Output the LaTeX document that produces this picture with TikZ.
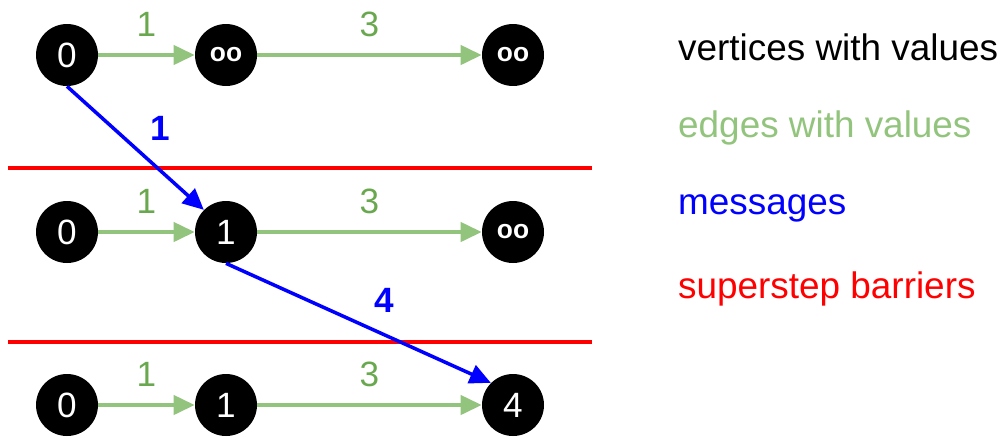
\documentclass[tikz,border=0pt]{standalone}
\usepackage{fontspec}
\setmainfont{Liberation Sans}
\usepackage{xcolor}
\definecolor{edgegreen}{RGB}{147, 196, 125}
\definecolor{labelgreen}{RGB}{106, 168, 79}
\definecolor{msgblue}{RGB}{0, 0, 255}
\definecolor{barred}{RGB}{255, 0, 0}
\usetikzlibrary{arrows.meta}
\tikzset{
  vertex/.style = {shape=circle, fill=black, text=white, minimum size=1.24cm, inner sep=0pt, font=\fontsize{20}{24}\selectfont},
  infinite/.style = {font=\bfseries\fontsize{15}{18}\selectfont},
  edge/.style = {draw=edgegreen, line width=2pt, -{Triangle[length=12pt, width=11pt]}},
  message/.style = {draw=msgblue, line width=2pt, -{Triangle[length=12pt, width=11pt]}},
  barrier/.style = {draw=barred, line width=2pt},
  elabel/.style = {text=labelgreen, font=\fontsize{20}{24}\selectfont},
  mlabel/.style = {text=msgblue, font=\bfseries\fontsize{20}{24}\selectfont},
  legend/.style = {anchor=west, font=\fontsize{21}{25}\selectfont}
}
\begin{document}
\begin{tikzpicture}[x=0.02cm, y=-0.02cm]
  \useasboundingbox (0,0) rectangle (1000,447);
  % superstep 1
  \node[vertex] (a0) at (67,55) {0};
  \node[vertex, infinite] (a1) at (226,55) {oo};
  \node[vertex, infinite] (a2) at (513,55) {oo};
  % superstep 2
  \node[vertex] (b0) at (67,232) {0};
  \node[vertex] (b1) at (226,232) {1};
  \node[vertex, infinite] (b2) at (513,232) {oo};
  % superstep 3
  \node[vertex] (c0) at (67,405) {0};
  \node[vertex] (c1) at (226,405) {1};
  \node[vertex] (c2) at (513,405) {4};
  % edges
  \draw[edge] (a0) -- node[elabel, above=6pt] {1} (a1);
  \draw[edge] (a1) -- node[elabel, above=6pt] {3} (a2);
  \draw[edge] (b0) -- node[elabel, above=6pt] {1} (b1);
  \draw[edge] (b1) -- node[elabel, above=6pt] {3} (b2);
  \draw[edge] (c0) -- node[elabel, above=6pt] {1} (c1);
  \draw[edge] (c1) -- node[elabel, above=6pt] {3} (c2);
  % barriers
  \coordinate (l1) at (8,168);  \coordinate (r1) at (592,168);
  \coordinate (l2) at (8,342);  \coordinate (r2) at (592,342);
  \draw[barrier] (l1) -- (r1);
  \draw[barrier] (l2) -- (r2);
  % messages
  \draw[message] (a0.south) -- (b1.north west);
  \draw[message] (b1.south) -- (c2.north west);
  \node[mlabel] (m1) at (160,128) {1};
  \node[mlabel] (m2) at (384,300) {4};
  % legend
  \node[legend] (lv) at (672,47) {vertices with values};
  \node[legend, text=edgegreen] (le) at (672,128) {edges with values};
  \node[legend, text=msgblue] (lm) at (672,208) {messages};
  \node[legend, text=barred] (lb) at (672,289) {superstep barriers};
\end{tikzpicture}
\end{document}
